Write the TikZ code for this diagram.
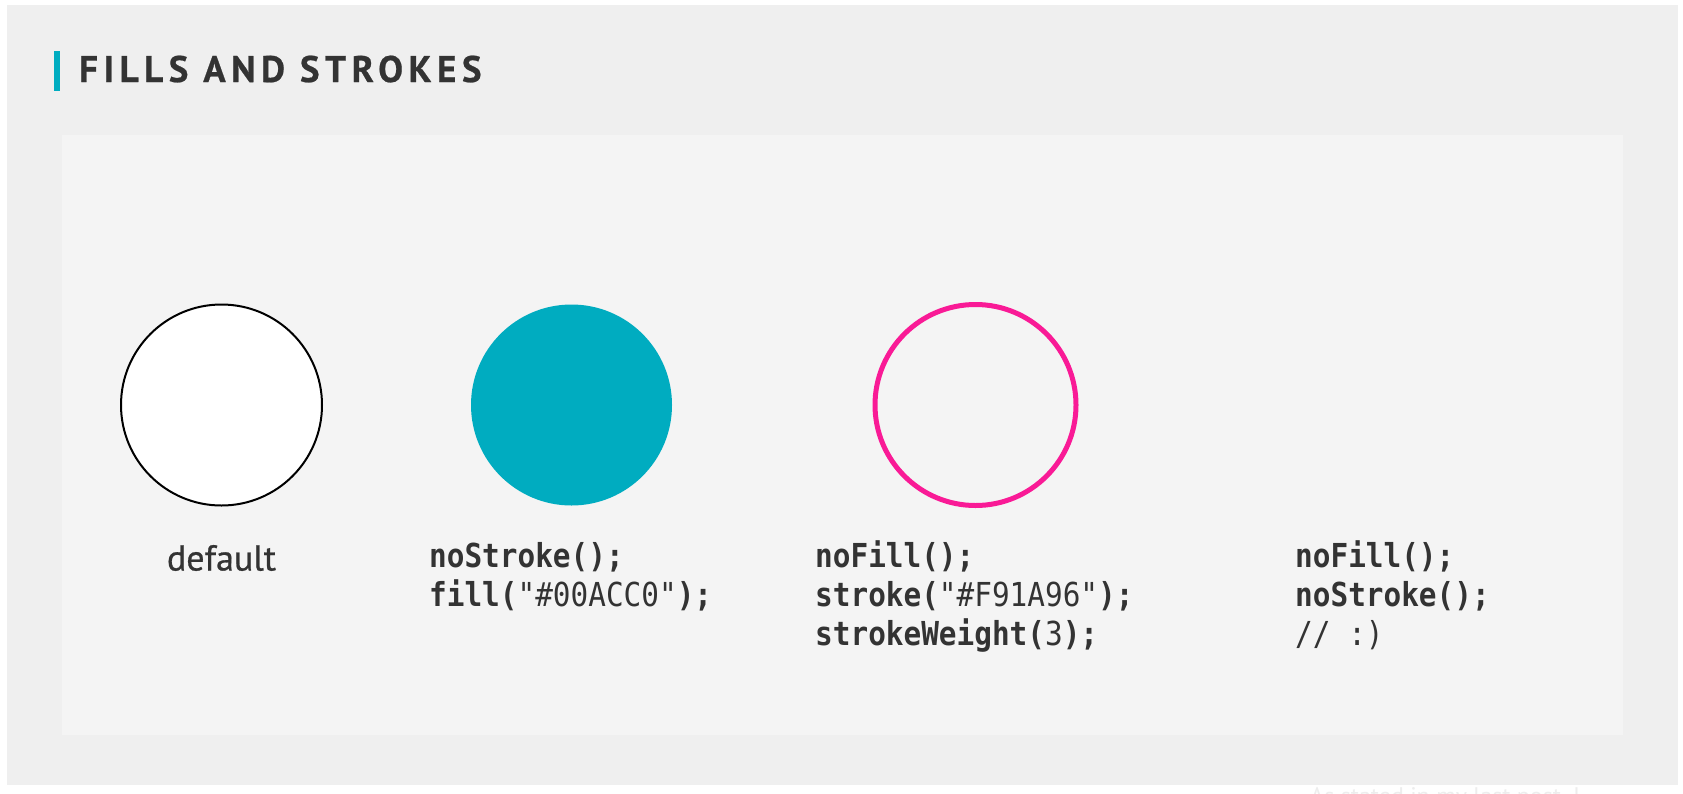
\documentclass[tikz,border=0pt]{standalone}
\usepackage{fontspec}
\setmainfont{PT Sans}
\newfontfamily\codefont[FakeStretch=0.89]{DejaVu Sans Mono}
\newfontfamily\titlefont[LetterSpace=15,FakeBold=0.6]{PT Sans}
\newfontfamily\labelfont[FakeBold=0.7]{PT Sans}
\definecolor{outerbg}{HTML}{EFEFEF}
\definecolor{innerbg}{HTML}{F4F4F4}
\definecolor{ink}{HTML}{333333}
\definecolor{teal}{HTML}{00ACC0}
\definecolor{pink}{HTML}{F91A96}
\definecolor{faint}{HTML}{EDEDED}
\tikzset{
  code/.style={anchor=base west, inner sep=0pt, text=ink,
    font={\codefont\fontsize{33}{39.3}\selectfont}},
  label/.style={anchor=base, inner sep=0pt, text=ink,
    font={\labelfont\fontsize{36}{40}\selectfont}},
  disc/.style={circle, minimum size=201pt, inner sep=0pt}
}
\begin{document}
\begin{tikzpicture}[x=1pt,y=-1pt]
\useasboundingbox (0,0) rectangle (1683,793);
\fill[white] (0,0) rectangle (1683,793);
\fill[outerbg] (7,5) rectangle (1678,785);
\fill[innerbg] (62,135) rectangle (1623,735);
% title
\fill[teal] (54,51) rectangle (60,91);
\node[anchor=base west, inner sep=0pt, text=ink,
  font={\titlefont\bfseries\fontsize{37}{40}\selectfont}] (title) at (79,82) {FILLS AND STROKES};
% circles
\node[disc, draw=black, line width=2pt, fill=white] (c1) at (221.5,405) {};
\node[disc, fill=teal] (c2) at (571.5,405) {};
\node[disc, draw=pink, line width=5pt] (c3) at (975.5,405) {};
% labels
\node[label] (l1) at (221.5,570.5) {default};
\node[code] (l2a) at (429,567) {\textbf{noStroke();}};
\node[code] (l2b) at (429,606.3) {\textbf{fill(}"\#00ACC0"\textbf{);}};
\node[code] (l3a) at (815,567) {\textbf{noFill();}};
\node[code] (l3b) at (815,606.3) {\textbf{stroke(}"\#F91A96"\textbf{);}};
\node[code] (l3c) at (815,645.6) {\textbf{strokeWeight(}3\textbf{);}};
\node[code] (l4a) at (1295,567) {\textbf{noFill();}};
\node[code] (l4b) at (1295,606.3) {\textbf{noStroke();}};
\node[code] (l4c) at (1295,645.6) {// :)};
% faint cut-off text below the panel
\begin{scope}
\clip (7,785) rectangle (1683,793);
\node[anchor=base west, inner sep=0pt, text=faint, font={\fontsize{24}{28}\selectfont}] (faint) at (1310,804) {As stated in my last post, I};
\end{scope}
\end{tikzpicture}
\end{document}
